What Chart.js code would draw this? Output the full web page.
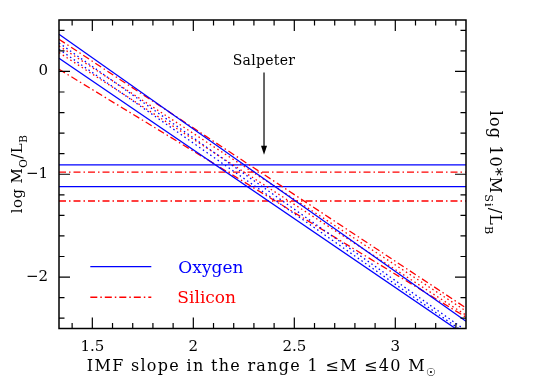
<!DOCTYPE html>
<html>
<head>
<meta charset="utf-8">
<script src="https://cdn.jsdelivr.net/npm/chart.js@4.4.0/dist/chart.umd.min.js"></script>
<style>
  html, body { margin: 0; padding: 0; background: #fff; }
  #wrap { width: 545px; height: 386px; }
</style>
</head>
<body>
<div id="wrap"><canvas id="imfChart"></canvas></div>
<script>
// x range ends, each model line is given by its value at these two ends
const xEnds = [1.335, 3.35];
const oxyUpper = [0.361, -2.43];
const oxyDot1 = [0.277, -2.52];
const oxyDot2 = [0.216, -2.55];
const oxyLower = [0.128, -2.57];
const siUpper = [0.313, -2.30];
const siDot1 = [0.248, -2.33];
const siDot2 = [0.183, -2.37];
const siLower = [0.021, -2.39];
// observed levels
const oxyObs = [-0.908, -1.121];
const siObs = [-0.979, -1.26];
const xTicks = [1.5, 2, 2.5, 3];
const yTicks = [-2, -1, 0];
const salpeter = 2.35;

const BLUE = '#0000ff';
const RED = '#ff0000';
const SERIF = '"DejaVu Serif", "Liberation Serif", serif';
const dashDot = [7, 3, 1.5, 3];
const dotted = [1.5, 3];

function seg(vals) {
  return xEnds.map((x, i) => ({ x: x, y: vals[i] }));
}
function flat(v) {
  return xEnds.map(x => ({ x: x, y: v }));
}
function line(vals, color, dash, isFlat) {
  return {
    data: isFlat ? flat(vals) : seg(vals),
    borderColor: color,
    borderWidth: 1.3,
    borderDash: dash,
    pointRadius: 0,
    fill: false
  };
}

const datasets = [
  line(oxyUpper, BLUE, []),
  line(oxyLower, BLUE, []),
  line(oxyDot1, BLUE, dotted),
  line(oxyDot2, BLUE, dotted),
  line(siUpper, RED, dashDot),
  line(siLower, RED, dashDot),
  line(siDot1, RED, dotted),
  line(siDot2, RED, dotted),
  line(oxyObs[0], BLUE, [], true),
  line(oxyObs[1], BLUE, [], true),
  line(siObs[0], RED, dashDot, true),
  line(siObs[1], RED, dashDot, true)
];

// text with subscripts: parts = [[text, isSub], ...]
function partsWidth(ctx, parts, size) {
  let w = 0;
  parts.forEach(([t, sub]) => {
    ctx.font = (sub ? size * 0.7 : size) + 'px ' + SERIF;
    w += ctx.measureText(t).width;
  });
  return w;
}
function drawParts(ctx, parts, x, y, size) {
  let cx = x;
  parts.forEach(([t, sub]) => {
    ctx.font = (sub ? size * 0.7 : size) + 'px ' + SERIF;
    ctx.fillText(t, cx, y + (sub ? size * 0.32 : 0));
    cx += ctx.measureText(t).width;
  });
}

const decor = {
  id: 'decor',
  afterDatasetsDraw(chart) {
    const ctx = chart.ctx;
    const a = chart.chartArea;
    const xs = chart.scales.x, ys = chart.scales.y;
    ctx.save();
    ctx.strokeStyle = '#000';
    ctx.fillStyle = '#000';
    ctx.lineWidth = 1.5;
    ctx.strokeRect(a.left, a.top, a.right - a.left, a.bottom - a.top);

    // inward ticks on all four sides
    ctx.lineWidth = 1.2;
    ctx.beginPath();
    for (let i = 14; i <= 33; i++) {
      const v = i / 10;
      const px = xs.getPixelForValue(v);
      if (px < a.left || px > a.right) continue;
      const len = (i % 5 === 0) ? 11 : 5.5;
      ctx.moveTo(px, a.bottom); ctx.lineTo(px, a.bottom - len);
      ctx.moveTo(px, a.top); ctx.lineTo(px, a.top + len);
    }
    for (let i = -12; i <= 2; i++) {
      const v = i / 5;
      const py = ys.getPixelForValue(v);
      if (py < a.top || py > a.bottom) continue;
      const len = (i % 5 === 0) ? 11 : 5.5;
      ctx.moveTo(a.left, py); ctx.lineTo(a.left + len, py);
      ctx.moveTo(a.right, py); ctx.lineTo(a.right - len, py);
    }
    ctx.stroke();

    // Salpeter arrow
    const sx = xs.getPixelForValue(salpeter);
    const yTop = ys.getPixelForValue(-0.01);
    const yTip = ys.getPixelForValue(-0.81);
    ctx.lineWidth = 1.2;
    ctx.beginPath();
    ctx.moveTo(sx, yTop); ctx.lineTo(sx, yTip - 6);
    ctx.stroke();
    ctx.beginPath();
    ctx.moveTo(sx, yTip); ctx.lineTo(sx - 3, yTip - 9); ctx.lineTo(sx + 3, yTip - 9);
    ctx.closePath(); ctx.fill();
    ctx.font = '14px ' + SERIF;
    ctx.letterSpacing = '0.3px';
    ctx.textAlign = 'center';
    ctx.textBaseline = 'alphabetic';
    ctx.fillText('Salpeter', sx, ys.getPixelForValue(0.06));

    // legend
    ctx.letterSpacing = '0px';
    ctx.textAlign = 'left';
    const lx0 = xs.getPixelForValue(1.49), lx1 = xs.getPixelForValue(1.792);
    const ly1 = ys.getPixelForValue(-1.898), ly2 = ys.getPixelForValue(-2.196);
    ctx.lineWidth = 1.3;
    ctx.strokeStyle = BLUE;
    ctx.beginPath(); ctx.moveTo(lx0, ly1); ctx.lineTo(lx1, ly1); ctx.stroke();
    ctx.strokeStyle = RED;
    ctx.setLineDash(dashDot);
    ctx.beginPath(); ctx.moveTo(lx0, ly2); ctx.lineTo(lx1, ly2); ctx.stroke();
    ctx.setLineDash([]);
    ctx.font = '17px ' + SERIF;
    ctx.fillStyle = BLUE;
    ctx.fillText('Oxygen', xs.getPixelForValue(1.926), ly1 + 6);
    ctx.fillStyle = RED;
    ctx.fillText('Silicon', xs.getPixelForValue(1.921), ly2 + 6);

    // axis titles
    ctx.fillStyle = '#000';
    ctx.letterSpacing = '1.3px';
    const xt = [['IMF slope in the range 1 \u2264M \u226440 M', false], ['\u2609', true]];
    const xw = partsWidth(ctx, xt, 16);
    drawParts(ctx, xt, 262 - xw / 2, 371, 16);

    ctx.letterSpacing = '0.4px';
    const yt = [['log M', false], ['O', true], ['/L', false], ['B', true]];
    ctx.save();
    ctx.translate(22, 174);
    ctx.rotate(-Math.PI / 2);
    drawParts(ctx, yt, -partsWidth(ctx, yt, 15) / 2, 0, 15);
    ctx.restore();

    ctx.letterSpacing = '1.1px';
    const rt = [['log 10*M', false], ['Si', true], ['/L', false], ['B', true]];
    ctx.save();
    ctx.translate(490, 173);
    ctx.rotate(Math.PI / 2);
    drawParts(ctx, rt, -partsWidth(ctx, rt, 16) / 2, 0, 16);
    ctx.restore();
    ctx.restore();
  }
};

const ctx = document.getElementById('imfChart').getContext('2d');
const imfChart = new Chart(ctx, {
  type: 'line',
  data: { datasets: datasets },
  options: {
    responsive: true,
    maintainAspectRatio: false,
    animation: false,
    layout: { padding: { top: 19.5, left: 0, right: 0, bottom: 0 } },
    plugins: { legend: { display: false }, tooltip: { enabled: false } },
    scales: {
      x: {
        type: 'linear',
        min: xEnds[0],
        max: xEnds[1],
        afterBuildTicks: s => { s.ticks = xTicks.map(v => ({ value: v })); },
        afterFit: s => { s.height = 57.5; },
        grid: { display: false, drawTicks: false },
        border: { display: false },
        ticks: {
          padding: 10,
          color: '#000',
          font: { family: SERIF, size: 15 },
          callback: v => String(v)
        }
      },
      y: {
        type: 'linear',
        min: -2.5,
        max: 0.5,
        afterBuildTicks: s => { s.ticks = yTicks.map(v => ({ value: v })); },
        afterFit: s => { s.width = 59; },
        grid: { display: false, drawTicks: false },
        border: { display: false },
        ticks: {
          padding: 11,
          color: '#000',
          font: { family: SERIF, size: 15 },
          callback: v => String(v).replace('-', '\u2212')
        }
      },
      y2: {
        type: 'linear',
        position: 'right',
        min: -2.5,
        max: 0.5,
        afterFit: s => { s.width = 79; },
        grid: { display: false, drawTicks: false },
        border: { display: false },
        ticks: { display: false }
      }
    }
  },
  plugins: [decor]
});
</script>
</body>
</html>
